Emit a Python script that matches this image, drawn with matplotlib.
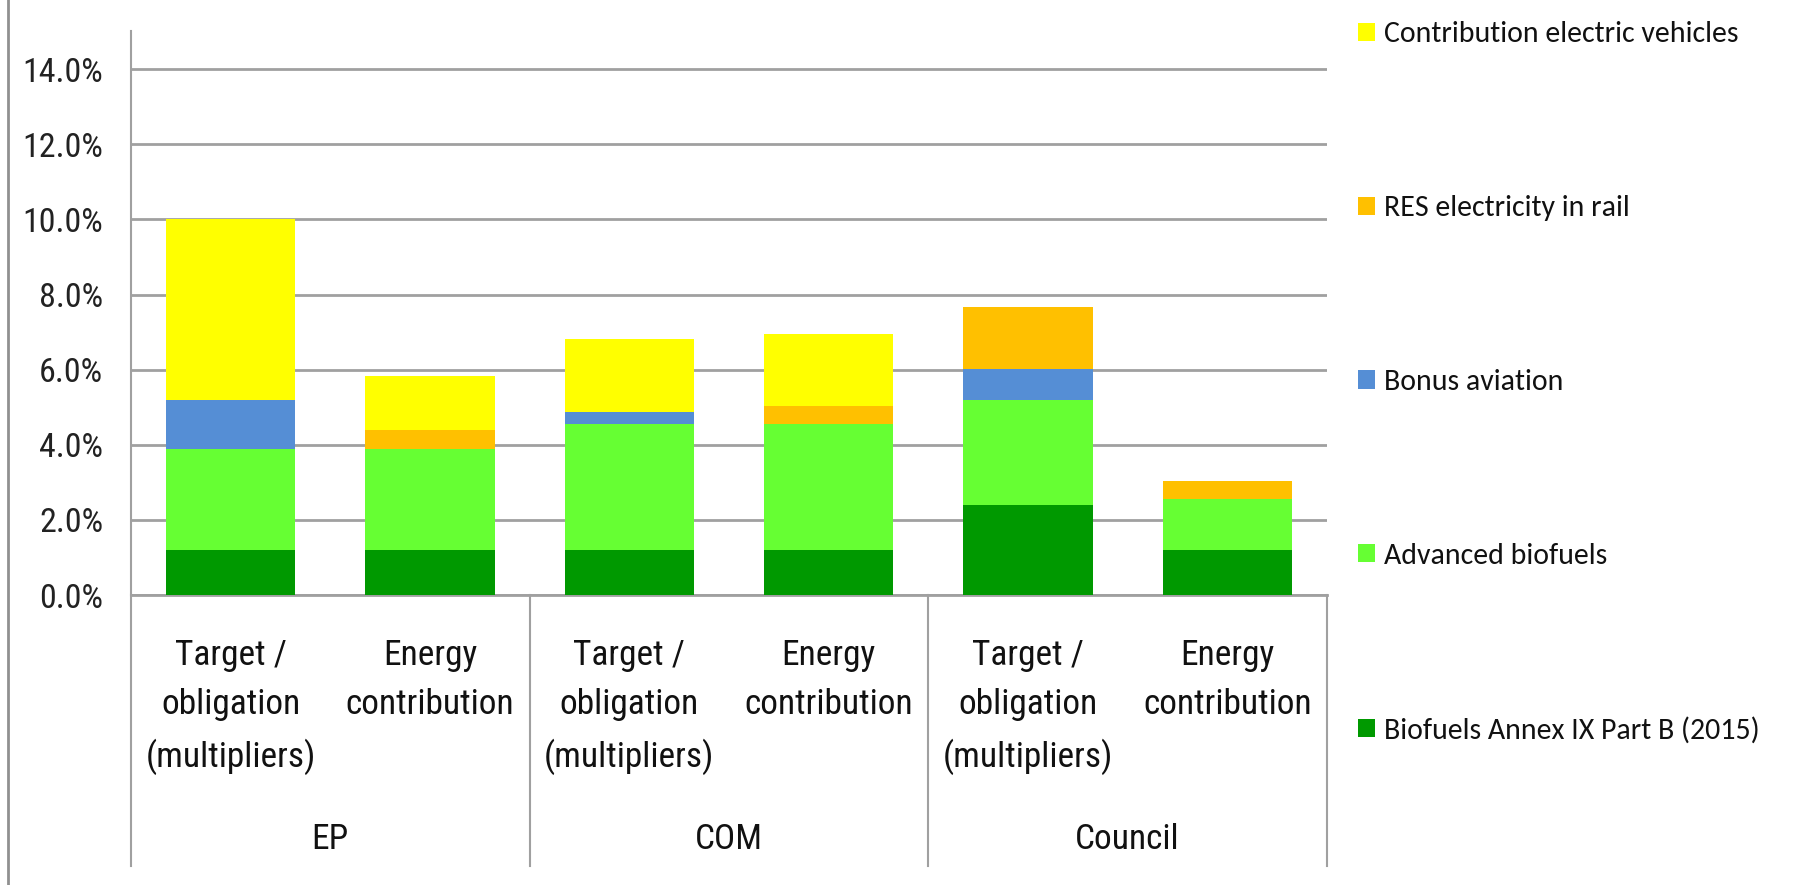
import matplotlib
matplotlib.use("Agg")
import matplotlib.pyplot as plt
import matplotlib.transforms as mtransforms
from matplotlib.lines import Line2D
import numpy as np

AX_FONT = ['Roboto Condensed', 'PT Sans Narrow', 'Liberation Sans', 'DejaVu Sans']
LEG_FONT = ['Carlito', 'Liberation Sans', 'DejaVu Sans']
plt.rcParams['font.family'] = AX_FONT

categories = ["Target /\nobligation\n(multipliers)", "Energy\ncontribution",
              "Target /\nobligation\n(multipliers)", "Energy\ncontribution",
              "Target /\nobligation\n(multipliers)", "Energy\ncontribution"]
groups = ["EP", "COM", "Council"]

series_names = ["Biofuels Annex IX Part B (2015)", "Advanced biofuels", "Bonus aviation",
                "RES electricity in rail", "Contribution electric vehicles"]
biofuels_b = [1.2, 1.2, 1.2, 1.2, 2.4, 1.2]
advanced = [2.7, 2.7, 3.35, 3.35, 2.8, 1.35]
bonus_aviation = [1.3, 0.0, 0.33, 0.0, 0.82, 0.0]
res_rail = [0.0, 0.5, 0.0, 0.48, 1.65, 0.49]
ev = [4.8, 1.42, 1.93, 1.92, 0.0, 0.0]
colors = ["#009900", "#66FF33", "#558ED5", "#FFC000", "#FFFF00"]

W, H = 1799, 885
fig = plt.figure(figsize=(W / 100, H / 100), dpi=100)
fig.patch.set_facecolor("white")

ax_left, ax_right = 131, 1327
ax_top, ax_bottom = 30.8, 595.1
ax = fig.add_axes([ax_left / W, 1 - ax_bottom / H, (ax_right - ax_left) / W, (ax_bottom - ax_top) / H])

x = np.arange(len(categories))
data = [biofuels_b, advanced, bonus_aviation, res_rail, ev]
bottom = np.zeros(len(categories))
handles = []
for vals, c, name in zip(data, colors, series_names):
    vals = np.array(vals)
    b = ax.bar(x, vals, bottom=bottom, width=0.65, color=c, label=name, zorder=3, linewidth=0)
    handles.append(b)
    bottom += vals

ax.set_xlim(-0.5, len(categories) - 0.5)
ax.set_ylim(0, 15.02)
ax.set_yticks(np.arange(0, 15, 2))
ax.set_yticklabels([f"{v:.1f}%" for v in np.arange(0, 15, 2)], fontsize=24.5, color="#222222")
ax.tick_params(axis='y', length=0, pad=20)
ax.set_xticks([])
ax.yaxis.grid(True, color="#a0a0a0", linewidth=2)
ax.set_axisbelow(True)
for s in ["top", "right"]:
    ax.spines[s].set_visible(False)
ax.spines["left"].set_color("#a0a0a0")
ax.spines["left"].set_linewidth(1.5)
ax.spines["bottom"].set_color("#a0a0a0")
ax.spines["bottom"].set_linewidth(2)

axh = ax_bottom - ax_top
def py2ax(py):
    return (ax_bottom - py) / axh

trans = mtransforms.blended_transform_factory(ax.transData, ax.transAxes)

# category labels
line_y = [655, 705, 757]
for xi, lab in zip(x, categories):
    for i, ln in enumerate(lab.split("\n")):
        ax.text(xi, py2ax(line_y[i]), ln, transform=trans, ha="center", va="center",
                fontsize=25.5, color="#111111", clip_on=False)

# group labels and separators
for gi, g in enumerate(groups):
    ax.text(2 * gi + 0.5, py2ax(840), g, transform=trans, ha="center", va="center",
            fontsize=25.5, color="#111111", clip_on=False)
for bx in [-0.5, 1.5, 3.5, 5.5]:
    ax.add_line(Line2D([bx, bx], [0, py2ax(866)], transform=trans, color="#a0a0a0",
                       linewidth=1.5, clip_on=False))

# outer left border line
fig.add_artist(Line2D([8.5 / W, 8.5 / W], [0, 1], transform=fig.transFigure,
                      color="#909090", linewidth=2))

leg = fig.legend(handles[::-1], series_names[::-1], loc="upper left",
                 bbox_to_anchor=(1358 / W, 1 - 21.5 / H), frameon=False,
                 prop={'family': LEG_FONT, 'size': 21.5},
                 handlelength=0.56, handleheight=0.56, handletextpad=0.3,
                 labelspacing=4.95, borderpad=0, borderaxespad=0)
for t in leg.get_texts():
    t.set_color("#111111")

fig.savefig("out.png", dpi=100, facecolor="white")
